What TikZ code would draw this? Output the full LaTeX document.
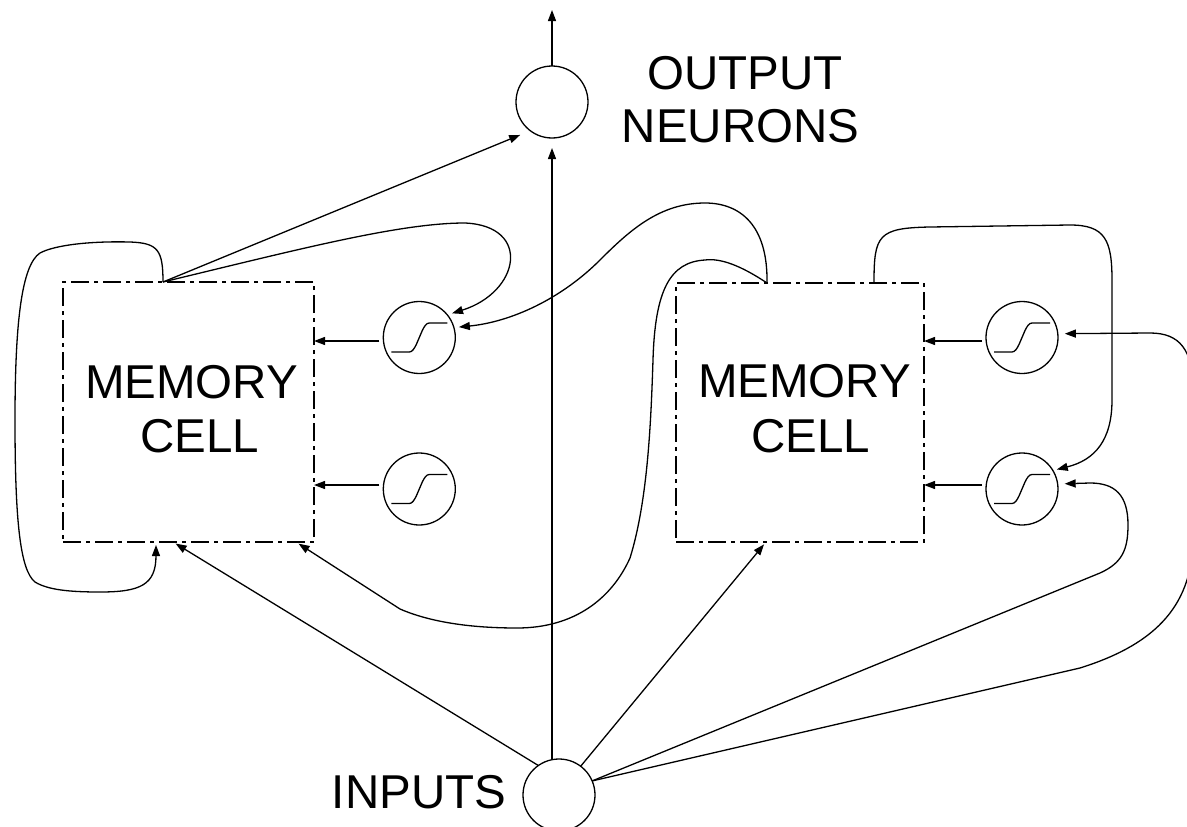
\documentclass[tikz,border=0pt]{standalone}
\usepackage{fontspec}
\setmainfont{Liberation Sans}
\usetikzlibrary{arrows.meta}
% sigmoid drawn inside a gate circle
\newcommand\gatecurve[1]{\draw[conn, shift={(#1)}] (-28,14.5) -- (-10,14.5) .. controls (-7,14.5) and (-5,11) .. (-3,7) -- (3,-7) .. controls (5,-11) and (7,-14.5) .. (10,-14.5) -- (28,-14.5);}
\begin{document}
\begin{tikzpicture}[x=1pt,y=-1pt,
  every node/.style={inner sep=0pt, outer sep=0pt},
  conn/.style={line width=1.3pt},
  arr/.style={conn, -{Triangle[length=11pt,width=8pt]}},
  gate/.style={circle, draw, line width=1.3pt, minimum size=72pt},
  neuron/.style={gate},
  cell/.style={draw, line width=1.3pt, dash pattern=on 18pt off 5pt on 4pt off 5pt},
  txt/.style={font=\fontsize{47.5pt}{54pt}\selectfont, anchor=base}]
\useasboundingbox (0,0) rectangle (1187,827);

% neurons
\node[neuron] (out) at (552,102) {};
\node[neuron] (inp) at (559,795) {};

% memory cells
\node[cell, minimum width=251pt, minimum height=260pt] (lbox) at (188.5,412) {};
\node[cell, minimum width=248pt, minimum height=259pt] (rbox) at (800,412.5) {};

% gates
\node[gate] (lg1) at (419.3,337.5) {};
\node[gate] (lg2) at (419.3,489) {};
\node[gate] (rg1) at (1022,337.5) {};
\node[gate] (rg2) at (1022,489) {};
\gatecurve{lg1}
\gatecurve{lg2}
\gatecurve{rg1}
\gatecurve{rg2}

% labels
\node[txt] (lmem) at (191.5,398) {MEMORY};
\node[txt] (lcell) at (200,452) {CELL};
\node[txt] (rmem) at (804.5,397) {MEMORY};
\node[txt] (rcell) at (810.5,452) {CELL};
\node[txt] (outlbl1) at (745,89) {OUTPUT};
\node[txt] (outlbl2) at (740.5,142) {NEURONS};
\node[txt] (inlbl) at (419,808) {INPUTS};

% connection points
\coordinate (lt) at ([xshift=100pt]lbox.north west);
\coordinate (rt1) at ([xshift=91pt]rbox.north west);
\coordinate (rt2) at ([xshift=198pt]rbox.north west);
\coordinate (outtop) at (552,10);
\coordinate (a1) at ([yshift=-3.5pt]lg1.west);
\coordinate (a2) at ([yshift=4pt]lg2.west);
\coordinate (a3) at ([yshift=-3.5pt]rg1.west);
\coordinate (a4) at ([yshift=4pt]rg2.west);

% gates into cells
\draw[arr] ([xshift=-4pt]a1) -- (a1 -| lbox.east);
\draw[arr] ([xshift=-4pt]a2) -- (a2 -| lbox.east);
\draw[arr] ([xshift=-4pt]a3) -- (a3 -| rbox.east);
\draw[arr] ([xshift=-4pt]a4) -- (a4 -| rbox.east);

% output neuron
\draw[arr] (out.north) -- (outtop);
\draw[arr, shorten >=11pt] (lt) -- (out.233);

% left cell output back to its gate and to itself
\draw[arr, shorten >=5pt] (lt) .. controls (300,249) and (400,223) .. (465,223)
  .. controls (532,226) and (520,292) .. (lg1.39);
\draw[arr, shorten >=3pt] (lt) .. controls (163,250) and (158,243) .. (130,242)
  .. controls (90,241) and (55,245) .. (40,253)
  .. controls (22,265) and (15,320) .. (15,420)
  .. controls (15,520) and (20,570) .. (35,582)
  .. controls (48,590) and (70,592) .. (100,592)
  .. controls (140,592) and (156,585) .. ([xshift=93pt]lbox.south west);

% right cell outputs
\draw[arr, shorten >=5pt] (rt1) .. controls (768,225) and (740,203) .. (705,203)
  .. controls (660,203) and (630,230) .. (600,260)
  .. controls (560,300) and (510,322) .. (lg1.16);
\draw[arr, shorten >=3pt] (rt1) .. controls (740,265) and (720,258) .. (705,260)
  .. controls (670,262) and (655,290) .. (653,360)
  .. controls (651,420) and (648,500) .. (630,558)
  .. controls (612,598) and (575,628) .. (517,628)
  .. controls (470,628) and (430,622) .. (400,609)
  -- ([xshift=233pt]lbox.south west);
\draw[arr, shorten >=4pt] (rt2) .. controls (874,235) and (878,228) .. (930,227)
  -- (1070,225) .. controls (1105,225) and (1112,240) .. (1112,280)
  -- (1112,400) .. controls (1112,440) and (1095,460) .. (rg2.31);

% inputs
\draw[arr, shorten >=3pt] (inp.125) -- ([xshift=110pt]lbox.south west);
\draw[arr, shorten >=10pt] (out.south |- inp.north) -- (out.south);
\draw[arr, shorten >=3pt] (inp.53) -- ([xshift=90pt]rbox.south west);
\draw[arr, shorten >=7pt] (inp.23) -- (1080,668)
  .. controls (1150,646) and (1192,610) .. (1193,540) -- (1193,390)
  .. controls (1193,350) and (1180,333) .. (1150,333) -- (rg1.6);
\draw[arr, shorten >=7pt] (inp.23) -- (1100,573)
  .. controls (1122,563) and (1128,550) .. (1128,525)
  .. controls (1128,495) and (1115,483) .. (1090,483) -- (rg2.8);
\end{tikzpicture}
\end{document}
